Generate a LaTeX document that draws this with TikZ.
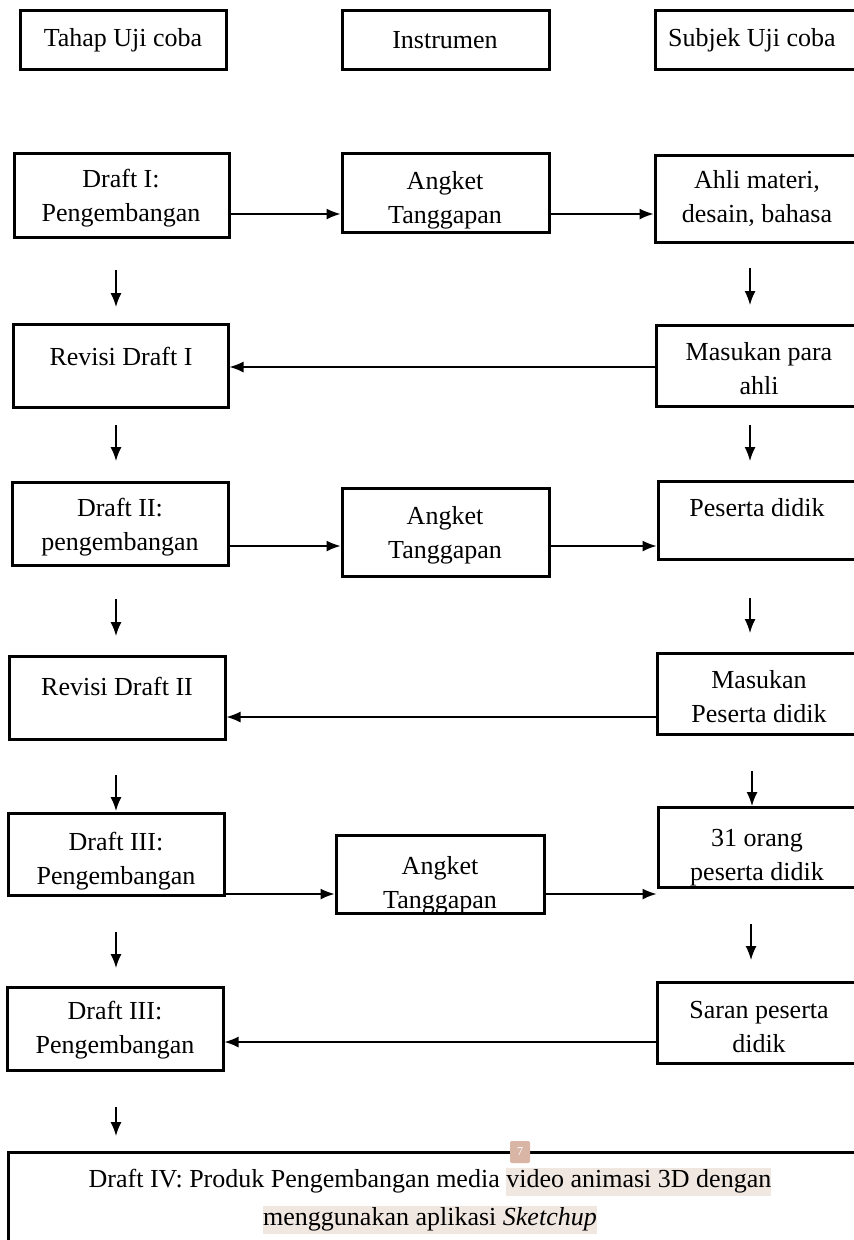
\documentclass[tikz,border=0pt]{standalone}
\usepackage{fontspec}
\setmainfont{Liberation Serif}
\usetikzlibrary{arrows.meta}
\definecolor{hlc}{RGB}{240,231,225}
\definecolor{badgec}{RGB}{217,181,166}
\newcommand\hlbox[1]{{\setlength{\fboxsep}{0pt}\colorbox{hlc}{\rule[-0.3em]{0pt}{1.05em}#1}}}
\newcommand\mybox[5]{\node[box, minimum width={#4-#2}, minimum height={#5-#3}] (#1) at ({(#2+#4)/2},{(#3+#5)/2}) {};}
\begin{document}
\begin{tikzpicture}[x=1pt,y=-1pt,
  box/.style={draw, line width=3pt, inner sep=0pt},
  txt/.style={font=\fontsize{26}{34}\selectfont, align=center, inner sep=0pt},
  arr/.style={line width=1.5pt, -{Latex[length=14pt,width=11pt]}}]
\clip (0,0) rectangle (854,1240);
\fill[white] (0,0) rectangle (854,1240);
% header row
\mybox{tahap}{20}{10}{226}{69}
\mybox{instr}{342}{10}{549}{69}
\mybox{subj}{655}{10}{862}{69}
\node[txt] (tahapt) at (123,40) {Tahap Uji coba};
\node[txt] (instrt) at (445,40) {Instrumen};
\node[txt] (subjt) at (752,40) {Subjek Uji coba};
% row 1
\mybox{d1}{14}{153}{229}{237}
\mybox{a1}{342}{153}{549}{232}
\mybox{s1}{655}{155}{862}{242}
\node[txt] (d1t) at (121,198) {Draft I:\\Pengembangan};
\node[txt] (a1t) at (445,200) {Angket\\Tanggapan};
\node[txt] (s1t) at (757,198) {Ahli materi,\\desain, bahasa};
\coordinate (y1) at (0,214);
\draw[arr] (d1.east |- y1) -- (a1.west |- y1);
\draw[arr] (a1.east |- y1) -- (s1.west |- y1);
% down arrows 1
\coordinate (l1s) at (116,270); \coordinate (l1e) at (116,307);
\coordinate (r1s) at (750,268); \coordinate (r1e) at (750,305);
\draw[arr] (l1s) -- (l1e);
\draw[arr] (r1s) -- (r1e);
% row 2
\mybox{r1}{13}{324}{228}{407}
\mybox{m1}{656}{325}{862}{406}
\node[txt] (r1t) at (121,356) {Revisi Draft I};
\node[txt] (m1t) at (759,369) {Masukan para\\ahli};
\coordinate (y2) at (0,367);
\draw[arr] (m1.west |- y2) -- (r1.east |- y2);
% down arrows 2
\coordinate (l2s) at (116,425); \coordinate (l2e) at (116,461);
\coordinate (r2s) at (750,425); \coordinate (r2e) at (750,461);
\draw[arr] (l2s) -- (l2e);
\draw[arr] (r2s) -- (r2e);
% row 3
\mybox{d2}{12}{482}{228}{565}
\mybox{a2}{342}{488}{549}{576}
\mybox{s2}{658}{481}{862}{559}
\node[txt] (d2t) at (120,527) {Draft II:\\pengembangan};
\node[txt] (a2t) at (445,535) {Angket\\Tanggapan};
\node[txt] (s2t) at (757,508) {Peserta didik};
\coordinate (y3) at (0,546);
\draw[arr] (d2.east |- y3) -- (a2.west |- y3);
\draw[arr] (a2.east |- y3) -- (s2.west |- y3);
% down arrows 3
\coordinate (l3s) at (116,599); \coordinate (l3e) at (116,636);
\coordinate (r3s) at (750,598); \coordinate (r3e) at (750,633);
\draw[arr] (l3s) -- (l3e);
\draw[arr] (r3s) -- (r3e);
% row 4
\mybox{r2}{9}{656}{225}{739}
\mybox{m2}{657}{653}{862}{734}
\node[txt] (r2t) at (117,686) {Revisi Draft II};
\node[txt] (m2t) at (759,697) {Masukan\\Peserta didik};
\coordinate (y4) at (0,717);
\draw[arr] (m2.west |- y4) -- (r2.east |- y4);
% down arrows 4
\coordinate (l4s) at (116,775); \coordinate (l4e) at (116,811);
\coordinate (r4s) at (752,771); \coordinate (r4e) at (752,806);
\draw[arr] (l4s) -- (l4e);
\draw[arr] (r4s) -- (r4e);
% row 5
\mybox{d3}{8}{813}{224}{895}
\mybox{a3}{336}{835}{544}{913}
\mybox{s3}{658}{807}{862}{887}
\node[txt] (d3t) at (116,861) {Draft III:\\Pengembangan};
\node[txt] (a3t) at (440,885) {Angket\\Tanggapan};
\node[txt] (s3t) at (757,858) {31 orang\\peserta didik};
\coordinate (y5) at (0,894);
\draw[arr] (d3.east |- y5) -- (a3.west |- y5);
\draw[arr] (a3.east |- y5) -- (s3.west |- y5);
% down arrows 5
\coordinate (l5s) at (116,932); \coordinate (l5e) at (116,968);
\coordinate (r5s) at (751,924); \coordinate (r5e) at (751,960);
\draw[arr] (l5s) -- (l5e);
\draw[arr] (r5s) -- (r5e);
% row 6
\mybox{d4}{7}{987}{223}{1070}
\mybox{sr}{657}{982}{862}{1063}
\node[txt] (d4t) at (115,1030) {Draft III:\\Pengembangan};
\node[txt] (srt) at (759,1027) {Saran peserta\\didik};
\coordinate (y6) at (0,1042);
\draw[arr] (sr.west |- y6) -- (d4.east |- y6);
% down arrow 6
\coordinate (l6s) at (116,1107); \coordinate (l6e) at (116,1136);
\draw[arr] (l6s) -- (l6e);
% final box
\mybox{fin}{8}{1152}{862}{1262}
\node[txt, font=\fontsize{26}{38}\selectfont] (fint) at (430,1201) {Draft IV: Produk Pengembangan media \hlbox{video animasi 3D dengan}\\\hlbox{menggunakan aplikasi \textit{Sketchup}}};
\node[fill=badgec, rounded corners=2pt, minimum width=20, minimum height=22, inner sep=0pt, text=white, font=\fontsize{12}{12}\selectfont] (badge) at (520,1152) {7};
\end{tikzpicture}
\end{document}
